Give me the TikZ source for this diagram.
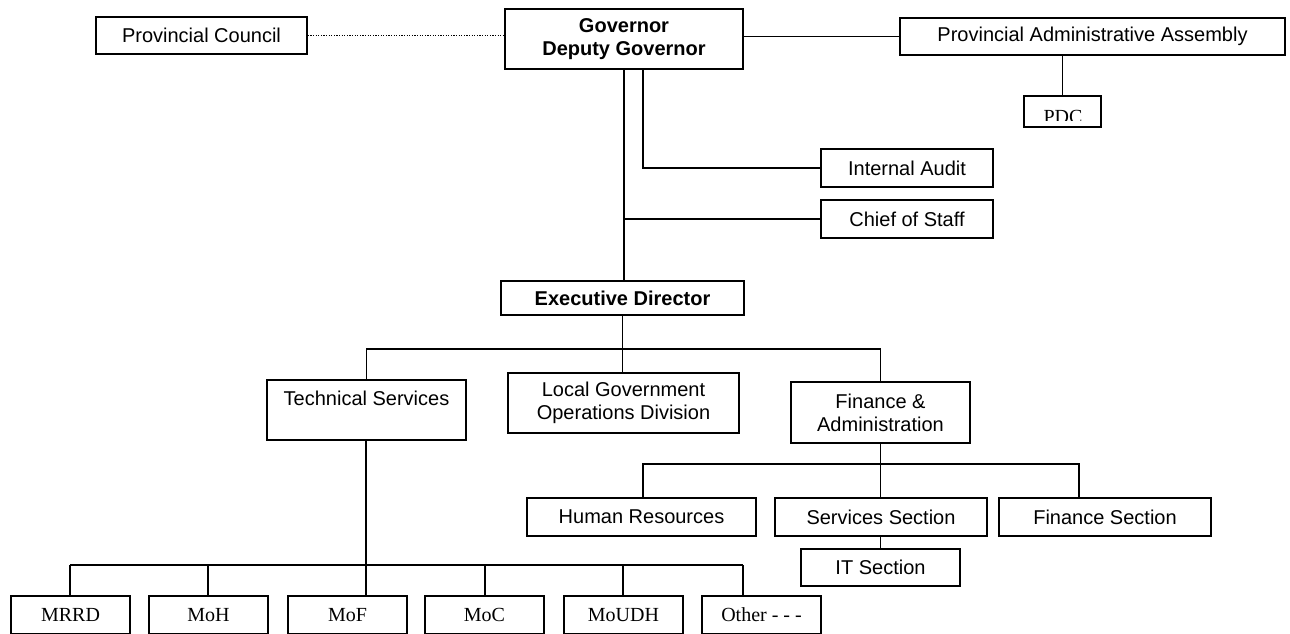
\documentclass[tikz,border=0pt]{standalone}
\usepackage{fontspec}
\setmainfont{Liberation Sans}
\newfontfamily\timesfont{Liberation Serif}
\usetikzlibrary{positioning}

\begin{document}
\begin{tikzpicture}[x=0.5pt,y=-0.5pt,
        box/.style={draw, line width=0.85pt, inner sep=0pt, align=center,
            font=\fontsize{10}{11.5}\selectfont},
        minbox/.style={box, font=\fontsize{10}{11.5}\timesfont,
            minimum width=59.5pt, minimum height=19pt},
        link/.style={line width=0.8pt}]
            \useasboundingbox (0,0) rectangle (1290,633);
            % Top level:
            \node[box, minimum width=119pt, minimum height=30pt] (gov) at (624,39) {\textbf{Governor}\\\textbf{Deputy Governor}};
            \node[box, minimum width=105.5pt, minimum height=18.5pt] (pc) at (201.5,35.5) {Provincial Council};
            \node[box, minimum width=192.5pt, minimum height=18.5pt] (paa) at (1092.5,36.5) {Provincial Administrative Assembly};
            \node[box, minimum width=38.5pt, minimum height=15.5pt] (pdc) at (1062.5,111.5) {};
            \begin{scope}
                \clip (1024,96) rectangle (1101,120);
                \node[font=\fontsize{10}{11.5}\timesfont, inner sep=0pt] (pdclabel) at (1063,116.5) {PDC};
            \end{scope}
            \node[box, minimum width=86pt, minimum height=19pt] (audit) at (907,168) {Internal Audit};
            \node[box, minimum width=86pt, minimum height=19pt] (staff) at (907,219) {Chief of Staff};
            \node[box, minimum width=121.5pt, minimum height=17pt] (exec) at (622.5,298) {\textbf{Executive Director}};

            \draw[line width=0.8pt, dash pattern=on 0.55pt off 0.75pt] (pc.east) -- (pc.east -| gov.west);
            \draw[link] (gov.east |- paa.west) -- (paa.west);
            \draw[link] (paa.south -| pdc.north) -- (pdc.north);
            \draw[link] ([xshift=9.5pt]gov.south) |- (audit.west);
            \draw[link] (gov.south) -- (gov.south |- exec.north);
            \draw[link] (gov.south |- staff.west) -- (staff.west);

            % Divisions:
            \node[box, minimum width=99.5pt, minimum height=30pt] (tech) at (366.5,410) {Technical Services\\\mbox{}};
            \node[box, minimum width=115.5pt, minimum height=30pt] (lgod) at (623.5,403) {Local Government\\Operations Division};
            \node[box, minimum width=89.5pt, minimum height=30.5pt] (fa) at (880.5,412.5) {Finance \&\\Administration};
            \coordinate (edbus) at (624,349);
            \draw[link] (exec.south) -- (exec.south |- lgod.north);
            \draw[link] (tech.north) |- (edbus) -| (fa.north);

            % Finance & Administration sections:
            \node[box, minimum width=114.5pt, minimum height=19pt] (hr) at (641.5,517) {Human Resources};
            \node[box, minimum width=106pt, minimum height=19pt] (serv) at (881,517) {Services Section};
            \node[box, minimum width=106pt, minimum height=19pt] (fin) at (1105,517) {Finance Section};
            \node[box, minimum width=79.5pt, minimum height=18.5pt] (it) at (880.5,567.5) {IT Section};
            \coordinate (fabus) at (880.5,464);
            \coordinate (hrdrop) at (643,498);
            \coordinate (findrop) at (1079,498);
            \draw[link] (fa.south) -- (fa.south |- serv.north);
            \draw[link] (hrdrop) |- (fabus) -| (findrop);
            \draw[link] (serv.south -| it.north) -- (it.north);

            % Ministries:
            \coordinate (tsbus) at (366,565);
            \draw[link] (tech.south -| tsbus) -- (tsbus);
            \foreach \name/\cx/\dx/\txt in {mrrd/70.5/70/MRRD, moh/208.5/208/MoH, mof/347.5/366/MoF,
                    moc/484.5/485/MoC, moudh/623.5/623/MoUDH, other/761.5/743/{Other - - -}}
                {
                \node[minbox] (\name) at (\cx,615) {\txt};
                \draw[link] (\dx,565) -- (\name.north -| \dx,0);
                }
            \draw[link] (70,565) -- (743,565);
        \end{tikzpicture}
\end{document}
